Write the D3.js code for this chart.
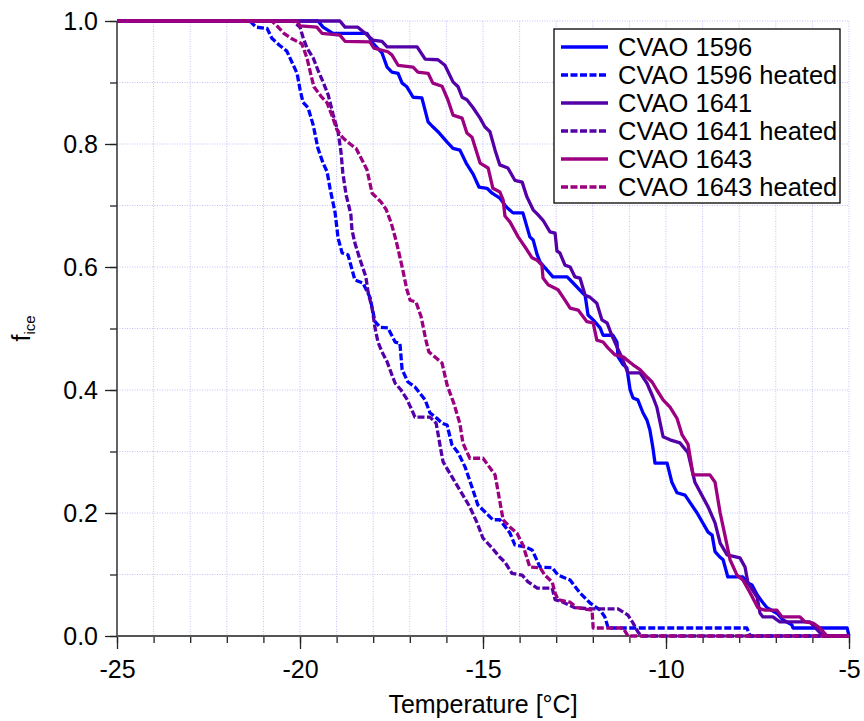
<!DOCTYPE html>
<meta charset="utf-8">
<script src="https://d3js.org/d3.v7.min.js"></script>
<style>
  body { margin: 0; background: #fff; }
  text { font-family: "Liberation Sans", Arial, sans-serif; fill: #000; }
</style>
<div id="chart"></div>
<script>

// ---- data (temperature in °C, fraction frozen) ----
var t1596 = [-25, -19.51, -19.37, -19.10, -18.17, -18.01, -17.76, -17.62, -17.49, -17.32, -17.21, -17.08, -16.91, -16.67, -16.50, -16.37, -16.23, -15.98, -15.82, -15.63, -15.46, -15.27, -15.11, -14.89, -14.75, -14.54, -14.37, -14.18, -13.91, -13.72, -13.63, -13.52, -13.44, -13.25, -13.09, -12.70, -12.57, -12.30, -12.21, -12.13, -11.99, -11.80, -11.72, -11.45, -11.34, -11.31, -11.17, -11.07, -10.98, -10.90, -10.77, -10.63, -10.52, -10.44, -10.36, -10.30, -9.97, -9.84, -9.70, -9.48, -9.15, -8.85, -8.74, -8.66, -8.52, -8.44, -8.31, -7.90, -7.76, -7.65, -7.51, -7.35, -7.24, -6.97, -6.80, -6.56, -6.53, -5.05, -5.0];
var f1596 = [1, 1, 0.990, 0.980, 0.980, 0.964, 0.948, 0.925, 0.917, 0.915, 0.899, 0.893, 0.876, 0.875, 0.836, 0.828, 0.820, 0.803, 0.793, 0.790, 0.769, 0.751, 0.730, 0.728, 0.720, 0.712, 0.698, 0.688, 0.688, 0.649, 0.644, 0.620, 0.608, 0.595, 0.584, 0.584, 0.576, 0.559, 0.554, 0.522, 0.514, 0.501, 0.489, 0.489, 0.478, 0.454, 0.441, 0.436, 0.400, 0.387, 0.384, 0.363, 0.351, 0.335, 0.307, 0.281, 0.281, 0.250, 0.233, 0.229, 0.200, 0.169, 0.164, 0.137, 0.128, 0.124, 0.096, 0.096, 0.086, 0.083, 0.067, 0.054, 0.046, 0.037, 0.026, 0.018, 0.013, 0.013, 0];

var t1596h = [-25, -21.37, -21.20, -20.90, -20.77, -20.57, -20.36, -20.22, -20.08, -20.00, -19.92, -19.78, -19.64, -19.51, -19.37, -19.26, -19.18, -19.04, -18.96, -18.85, -18.69, -18.50, -18.28, -18.09, -17.95, -17.81, -17.60, -17.40, -17.27, -17.21, -17.05, -16.86, -16.58, -16.45, -16.26, -16.12, -15.98, -15.85, -15.68, -15.49, -15.30, -15.14, -14.95, -14.73, -14.54, -14.26, -14.13, -13.85, -13.66, -13.44, -13.11, -12.95, -12.62, -12.35, -12.08, -11.80, -11.67, -11.58, -7.79, -7.70, -5.0];
var f1596h = [1, 1, 0.990, 0.988, 0.972, 0.961, 0.951, 0.933, 0.915, 0.889, 0.868, 0.859, 0.831, 0.793, 0.769, 0.755, 0.728, 0.688, 0.647, 0.623, 0.620, 0.579, 0.574, 0.551, 0.511, 0.502, 0.501, 0.478, 0.476, 0.433, 0.413, 0.405, 0.384, 0.363, 0.354, 0.346, 0.343, 0.311, 0.298, 0.275, 0.242, 0.213, 0.202, 0.189, 0.189, 0.167, 0.148, 0.145, 0.140, 0.112, 0.111, 0.099, 0.091, 0.070, 0.054, 0.042, 0.031, 0.013, 0.013, 0, 0];

var t1641 = [-25, -18.91, -18.77, -18.42, -18.22, -18.01, -17.76, -17.62, -16.80, -16.58, -16.23, -16.04, -15.82, -15.68, -15.57, -15.44, -15.27, -15.08, -14.95, -14.81, -14.67, -14.54, -14.32, -14.13, -13.93, -13.80, -13.63, -13.50, -13.36, -13.17, -13.03, -12.98, -12.90, -12.76, -12.62, -12.49, -12.35, -12.21, -12.08, -11.89, -11.75, -11.61, -11.48, -11.34, -11.20, -11.04, -10.71, -10.52, -10.36, -10.25, -10.08, -9.89, -9.62, -9.40, -9.21, -8.85, -8.66, -8.52, -8.33, -7.98, -7.84, -7.76, -7.51, -7.43, -7.35, -7.08, -6.89, -6.07, -5.79, -5.71, -5.0];
var f1641 = [1, 1, 0.990, 0.990, 0.980, 0.969, 0.967, 0.958, 0.958, 0.938, 0.937, 0.928, 0.901, 0.893, 0.876, 0.872, 0.859, 0.842, 0.828, 0.820, 0.790, 0.766, 0.761, 0.741, 0.738, 0.714, 0.693, 0.685, 0.676, 0.657, 0.655, 0.626, 0.623, 0.603, 0.600, 0.584, 0.582, 0.554, 0.551, 0.541, 0.514, 0.509, 0.489, 0.470, 0.452, 0.428, 0.428, 0.411, 0.389, 0.372, 0.324, 0.319, 0.314, 0.298, 0.250, 0.210, 0.184, 0.151, 0.132, 0.127, 0.112, 0.086, 0.063, 0.037, 0.031, 0.031, 0.023, 0.023, 0.005, 0, 0];

var t1641h = [-25, -20.19, -20.00, -19.92, -19.81, -19.64, -19.51, -19.37, -19.23, -19.10, -18.96, -18.88, -18.83, -18.74, -18.66, -18.61, -18.58, -18.50, -18.36, -18.20, -18.14, -18.03, -17.95, -17.87, -17.76, -17.62, -17.51, -17.40, -17.24, -17.08, -16.94, -16.86, -16.45, -16.28, -16.20, -16.15, -16.09, -15.85, -15.68, -15.55, -15.36, -15.16, -15.00, -14.75, -14.54, -14.40, -14.21, -13.93, -13.77, -13.52, -13.11, -13.03, -12.81, -12.49, -12.02, -11.31, -11.04, -10.90, -10.77, -10.68, -5.0];
var f1641h = [1, 1, 0.990, 0.974, 0.956, 0.940, 0.920, 0.901, 0.880, 0.849, 0.820, 0.787, 0.753, 0.717, 0.698, 0.685, 0.660, 0.639, 0.612, 0.584, 0.559, 0.533, 0.501, 0.478, 0.462, 0.446, 0.428, 0.411, 0.400, 0.385, 0.367, 0.356, 0.356, 0.346, 0.319, 0.302, 0.283, 0.259, 0.242, 0.229, 0.210, 0.184, 0.159, 0.143, 0.128, 0.120, 0.102, 0.099, 0.088, 0.078, 0.078, 0.059, 0.055, 0.046, 0.044, 0.044, 0.034, 0.021, 0.007, 0, 0];

var t1643 = [-25, -20.08, -20.00, -19.54, -19.40, -18.91, -18.77, -18.09, -17.98, -17.60, -17.49, -17.32, -16.91, -16.78, -16.50, -16.37, -16.12, -15.96, -15.82, -15.57, -15.44, -15.30, -15.08, -14.86, -14.73, -14.54, -14.45, -14.40, -14.26, -14.04, -13.80, -13.66, -13.52, -13.39, -13.36, -13.22, -12.95, -12.76, -12.62, -12.40, -12.16, -11.99, -11.89, -11.72, -11.58, -11.39, -11.17, -11.07, -10.90, -10.71, -10.57, -10.38, -10.25, -10.08, -9.89, -9.70, -9.56, -9.40, -9.26, -8.80, -8.66, -8.52, -8.39, -8.25, -8.06, -7.90, -7.70, -7.49, -7.30, -6.97, -6.83, -6.34, -6.20, -5.98, -5.79, -5.60, -5.0];
var f1643 = [1, 1, 0.992, 0.990, 0.980, 0.977, 0.967, 0.966, 0.956, 0.950, 0.945, 0.928, 0.925, 0.917, 0.915, 0.899, 0.894, 0.872, 0.847, 0.842, 0.818, 0.811, 0.769, 0.761, 0.728, 0.722, 0.709, 0.683, 0.673, 0.649, 0.628, 0.615, 0.611, 0.603, 0.582, 0.571, 0.563, 0.546, 0.533, 0.530, 0.511, 0.509, 0.481, 0.478, 0.468, 0.457, 0.454, 0.449, 0.441, 0.433, 0.424, 0.413, 0.400, 0.384, 0.372, 0.354, 0.327, 0.312, 0.262, 0.262, 0.250, 0.200, 0.164, 0.124, 0.099, 0.091, 0.070, 0.046, 0.042, 0.042, 0.031, 0.031, 0.023, 0.021, 0.013, 0, 0];

var t1643h = [-25, -20.77, -20.63, -20.44, -20.22, -19.95, -19.81, -19.70, -19.62, -19.43, -19.26, -19.13, -18.99, -18.83, -18.63, -18.47, -18.33, -18.17, -18.03, -17.79, -17.65, -17.51, -17.38, -17.32, -17.19, -17.08, -16.99, -16.83, -16.69, -16.56, -16.48, -16.28, -16.12, -15.98, -15.79, -15.63, -15.55, -15.36, -15.00, -14.67, -14.45, -14.26, -14.07, -13.91, -13.72, -13.44, -13.31, -13.11, -13.03, -12.95, -12.62, -12.43, -12.02, -11.99, -11.17, -11.04, -5.0];
var f1643h = [1, 1, 0.992, 0.980, 0.971, 0.963, 0.940, 0.912, 0.893, 0.878, 0.867, 0.847, 0.823, 0.810, 0.800, 0.793, 0.777, 0.758, 0.720, 0.706, 0.694, 0.672, 0.644, 0.629, 0.595, 0.563, 0.546, 0.543, 0.519, 0.481, 0.462, 0.452, 0.444, 0.408, 0.377, 0.345, 0.314, 0.289, 0.289, 0.262, 0.189, 0.177, 0.167, 0.148, 0.112, 0.111, 0.099, 0.088, 0.070, 0.059, 0.055, 0.046, 0.042, 0.013, 0.013, 0, 0];

var seriesNames = ["CVAO 1596", "CVAO 1596 heated", "CVAO 1641", "CVAO 1641 heated", "CVAO 1643", "CVAO 1643 heated"];

var xMajor = [-25, -20, -15, -10, -5];
var xMinor = d3.range(-25, -4, 1);
var yMajor = [0, 0.2, 0.4, 0.6, 0.8, 1.0];
var yMinor = d3.range(0, 1.05, 0.1);

// ---- layout ----
var margin = {top: 21, right: 15, bottom: 85, left: 117},
    width = 864 - margin.left - margin.right,
    height = 721 - margin.top - margin.bottom;

var svg = d3.select("#chart")
  .append("svg")
    .attr("width", 864)
    .attr("height", 721)
  .append("g")
    .attr("transform", `translate(${margin.left},${margin.top})`);

var x = d3.scaleLinear().domain([-25, -5]).range([0, width]);
var y = d3.scaleLinear().domain([0, 1]).range([height, 0]);

// dotted grid
var gridColor = "#c2c2f5";
svg.append("g")
  .selectAll("line")
  .data(xMinor)
  .join("line")
    .attr("x1", d => x(d)).attr("x2", d => x(d))
    .attr("y1", 0).attr("y2", height)
    .attr("stroke", gridColor)
    .attr("stroke-dasharray", "1,1.5");
svg.append("g")
  .selectAll("line")
  .data(yMinor)
  .join("line")
    .attr("x1", 0).attr("x2", width)
    .attr("y1", d => y(d)).attr("y2", d => y(d))
    .attr("stroke", gridColor)
    .attr("stroke-dasharray", "1,1.5");

// axes
var fontSize = "25px";
var xAxisG = svg.append("g").attr("transform", `translate(0,${height})`);
xAxisG.append("g").call(d3.axisBottom(x).tickValues(xMinor).tickSize(7).tickFormat(""));
xAxisG.append("g").call(d3.axisBottom(x).tickValues(xMajor).tickSize(13).tickPadding(11).tickFormat(d => String(d)));
xAxisG.selectAll(".domain").remove();
xAxisG.selectAll("line").attr("stroke", "#222").attr("stroke-width", 1.3);
xAxisG.selectAll("text").style("font-size", fontSize);

var yAxisG = svg.append("g");
yAxisG.append("g").call(d3.axisLeft(y).tickValues(yMinor).tickSize(7).tickFormat(""));
yAxisG.append("g").call(d3.axisLeft(y).tickValues(yMajor).tickSize(12).tickPadding(7).tickFormat(d3.format(".1f")));
yAxisG.selectAll(".domain").remove();
yAxisG.selectAll("line").attr("stroke", "#222").attr("stroke-width", 1.3);
yAxisG.selectAll("text").style("font-size", fontSize);

svg.append("line")
  .attr("x1", 0).attr("x2", 0).attr("y1", 0).attr("y2", height)
  .attr("stroke", "#333").attr("stroke-width", 1.5);
svg.append("line")
  .attr("x1", 0).attr("x2", width).attr("y1", height).attr("y2", height)
  .attr("stroke", "#555").attr("stroke-width", 2);

// curves
var series = [
  {name: seriesNames[0], t: t1596,  f: f1596,  color: "#0000ff", dash: null},
  {name: seriesNames[1], t: t1596h, f: f1596h, color: "#0000ff", dash: "7,2.5"},
  {name: seriesNames[2], t: t1641,  f: f1641,  color: "#5400a8", dash: null},
  {name: seriesNames[3], t: t1641h, f: f1641h, color: "#5400a8", dash: "7,2.5"},
  {name: seriesNames[4], t: t1643,  f: f1643,  color: "#9c0080", dash: null},
  {name: seriesNames[5], t: t1643h, f: f1643h, color: "#9c0080", dash: "7,2.5"}
];

var line = d3.line()
  .x(d => x(d[0]))
  .y(d => y(d[1]));

svg.append("g")
  .selectAll("path")
  .data(series)
  .join("path")
    .attr("d", s => line(d3.zip(s.t, s.f)))
    .attr("fill", "none")
    .attr("stroke", s => s.color)
    .attr("stroke-width", 3.3)
    .attr("stroke-linejoin", "round")
    .attr("stroke-dasharray", s => s.dash);

// legend
var legend = svg.append("g").attr("transform", "translate(437,8)");
legend.append("rect")
  .attr("width", 286).attr("height", 174)
  .attr("fill", "#fff").attr("stroke", "#000").attr("stroke-width", 1.3);
var rows = legend.selectAll("g.row")
  .data(series)
  .join("g")
    .attr("class", "row")
    .attr("transform", (d, i) => `translate(0,${18 + i * 28})`);
rows.append("line")
  .attr("x1", 7).attr("x2", 54)
  .attr("stroke", d => d.color)
  .attr("stroke-width", 3.3)
  .attr("stroke-dasharray", d => d.dash);
rows.append("text")
  .attr("x", 64)
  .attr("dy", "0.35em")
  .style("font-size", "25.5px")
  .text(d => d.name);

// axis titles
svg.append("text")
  .attr("x", width / 2)
  .attr("y", height + 77)
  .attr("text-anchor", "middle")
  .style("font-size", fontSize)
  .text("Temperature [°C]");

var yt = svg.append("text")
  .attr("transform", `translate(${-87},${height / 2}) rotate(-90)`)
  .attr("text-anchor", "middle")
  .style("font-size", fontSize);
yt.append("tspan").text("f");
yt.append("tspan").attr("dy", "0.3em").style("font-size", "15px").text("ice");

</script>
